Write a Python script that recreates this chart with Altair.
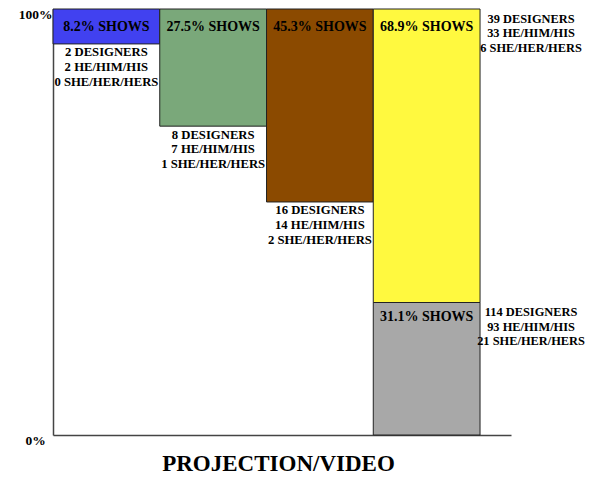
import altair as alt
import pandas as pd

# data
columns = [0, 1, 2, 3, 3]
tops = [100, 100, 100, 100, 31.1]
shows_pct = [8.2, 27.5, 45.3, 68.9, 31.1]
designers = [2, 8, 16, 39, 114]
he_him = [2, 7, 14, 33, 93]
she_her = [0, 1, 2, 6, 21]
colors = ["#4141F0", "#7AA87A", "#8B4A00", "#FFF93F", "#A8A8A8"]
pct_ticks = [0, 100]

df = pd.DataFrame({
    "seg": list(range(len(columns))),
    "col": columns,
    "top": tops,
    "pct": shows_pct,
    "designers": designers,
    "he": he_him,
    "she": she_her,
    "color": colors,
})
df["bottom"] = df["top"] - df["pct"]
df["x0"] = df["col"]
df["x1"] = df["col"] + 1
df["xc"] = df["col"] + 0.5
df["show_label"] = df["pct"].map(lambda v: f"{v}% SHOWS")
df["info"] = [
    f"{d} DESIGNERS\n{h} HE/HIM/HIS\n{s} SHE/HER/HERS"
    for d, h, s in zip(designers, he_him, she_her)
]

FONT = "Liberation Serif"
xscale = alt.Scale(domain=[0, 4.29], nice=False, zero=False)
yscale = alt.Scale(domain=[0, 100], nice=False)

base = alt.Chart(df)

bars = base.mark_rect(stroke="#222222", strokeWidth=1).encode(
    x=alt.X("x0:Q", scale=xscale,
            axis=alt.Axis(domainColor="#444444", domainWidth=1.5, ticks=False,
                          labels=False, grid=False, title="PROJECTION/VIDEO",
                          titleFont=FONT, titleFontSize=23, titleFontWeight="bold",
                          titleColor="black", titlePadding=17, titleX=225)),
    x2="x1:Q",
    y=alt.Y("bottom:Q", scale=yscale,
            axis=alt.Axis(domainColor="#444444", domainWidth=1.5, ticks=False,
                          grid=False, title=None, values=pct_ticks,
                          labelExpr="datum.value + '%'", labelFont=FONT,
                          labelFontSize=13.5, labelFontWeight="bold",
                          labelColor="black", labelAlign="center",
                          labelPadding=18, labelOffset=5, labelFlush=False)),
    y2="top:Q",
    color=alt.Color("color:N", scale=None),
)

show_top = base.transform_filter("datum.seg < 4").mark_text(
    font=FONT, fontSize=14, fontWeight="bold", color="black",
    baseline="middle", align="center", dy=17.5,
).encode(x="xc:Q", y="top:Q", text="show_label:N")

show_low = base.transform_filter("datum.seg == 4").mark_text(
    font=FONT, fontSize=14, fontWeight="bold", color="black",
    baseline="middle", align="center", dy=14.5,
).encode(x="xc:Q", y="top:Q", text="show_label:N")

info_under = base.transform_filter("datum.seg < 3").mark_text(
    font=FONT, fontSize=12.7, fontWeight="bold", color="black",
    baseline="top", align="center", dy=2.5, lineBreak="\n", lineHeight=14.7,
).encode(x="xc:Q", y="bottom:Q", text="info:N")

info_side = base.transform_filter("datum.seg >= 3").mark_text(
    font=FONT, fontSize=12.4, fontWeight="bold", color="black",
    baseline="top", align="center", dx=51, dy=3.5, lineBreak="\n", lineHeight=14.7,
).encode(x="x1:Q", y="top:Q", text="info:N")

chart = alt.layer(bars, show_top, show_low, info_under, info_side).properties(
    width=458, height=426,
    autosize=alt.AutoSizeParams(type="none"),
    padding={"left": 45, "top": 1, "right": 74, "bottom": 41},
).configure_view(stroke=None)

chart.save("out.html", embed_options={"renderer": "svg", "actions": False})
